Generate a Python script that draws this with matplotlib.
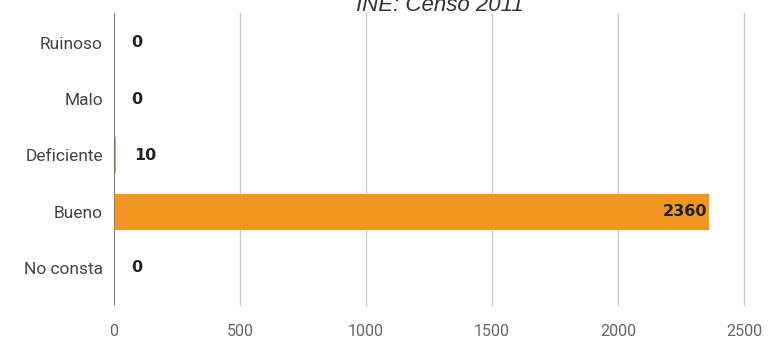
import matplotlib
matplotlib.use('Agg')
import matplotlib.pyplot as plt

# Estado de los edificios (INE, Censo 2011)
categorias = ["Ruinoso", "Malo", "Deficiente", "Bueno", "No consta"]
valores = [0, 0, 10, 2360, 0]
ticks_x = [0, 500, 1000, 1500, 2000, 2500]

naranja = "#f39621"

fig = plt.figure(figsize=(7.69, 3.39), dpi=100)
ax = fig.add_axes([0.1482, 0.1003, 0.8193, 0.8614])

pos = list(range(len(categorias)))
ax.barh(pos, valores, height=0.64, color=naranja, zorder=3)

# etiquetas de valor: dentro de la barra si es larga, fuera si es corta
for p, v in zip(pos, valores):
    if v > 1000:
        ax.text(v - 6, p, str(v), ha="right", va="center", fontsize=11.5,
                fontweight="bold", color="#222222", zorder=4)
    else:
        ax.text(v + 70, p, str(v), ha="left", va="center", fontsize=11.5,
                fontweight="bold", color="#222222", zorder=4)

ax.set_xlim(0, 2500)
ax.set_ylim(4.66, -0.53)
ax.set_xticks(ticks_x)
ax.set_xticklabels([str(t) for t in ticks_x])
ax.set_yticks(pos)
ax.set_yticklabels(categorias)

ax.grid(axis="x", color="#cccccc", linewidth=1, zorder=0)
for gl in ax.xaxis.get_gridlines():
    gl.set_clip_on(False)
ax.axvline(0, color="#777777", linewidth=1.2, zorder=5)
for s in ax.spines.values():
    s.set_visible(False)
ax.tick_params(axis="both", length=0, colors="#444444")
ax.tick_params(axis="y", labelsize=12.5, pad=8)
ax.tick_params(axis="x", labelsize=11.5, pad=14)
for lbl in ax.get_yticklabels() + ax.get_xticklabels():
    lbl.set_fontfamily("Roboto")
for lbl in ax.get_xticklabels():
    lbl.set_color("#666666")

fig.text(0.572, 0.985, "INE: Censo 2011", ha="center", va="center",
         fontsize=16, style="italic", family="Liberation Sans", color="#333333")

fig.savefig("out.png", dpi=100)
